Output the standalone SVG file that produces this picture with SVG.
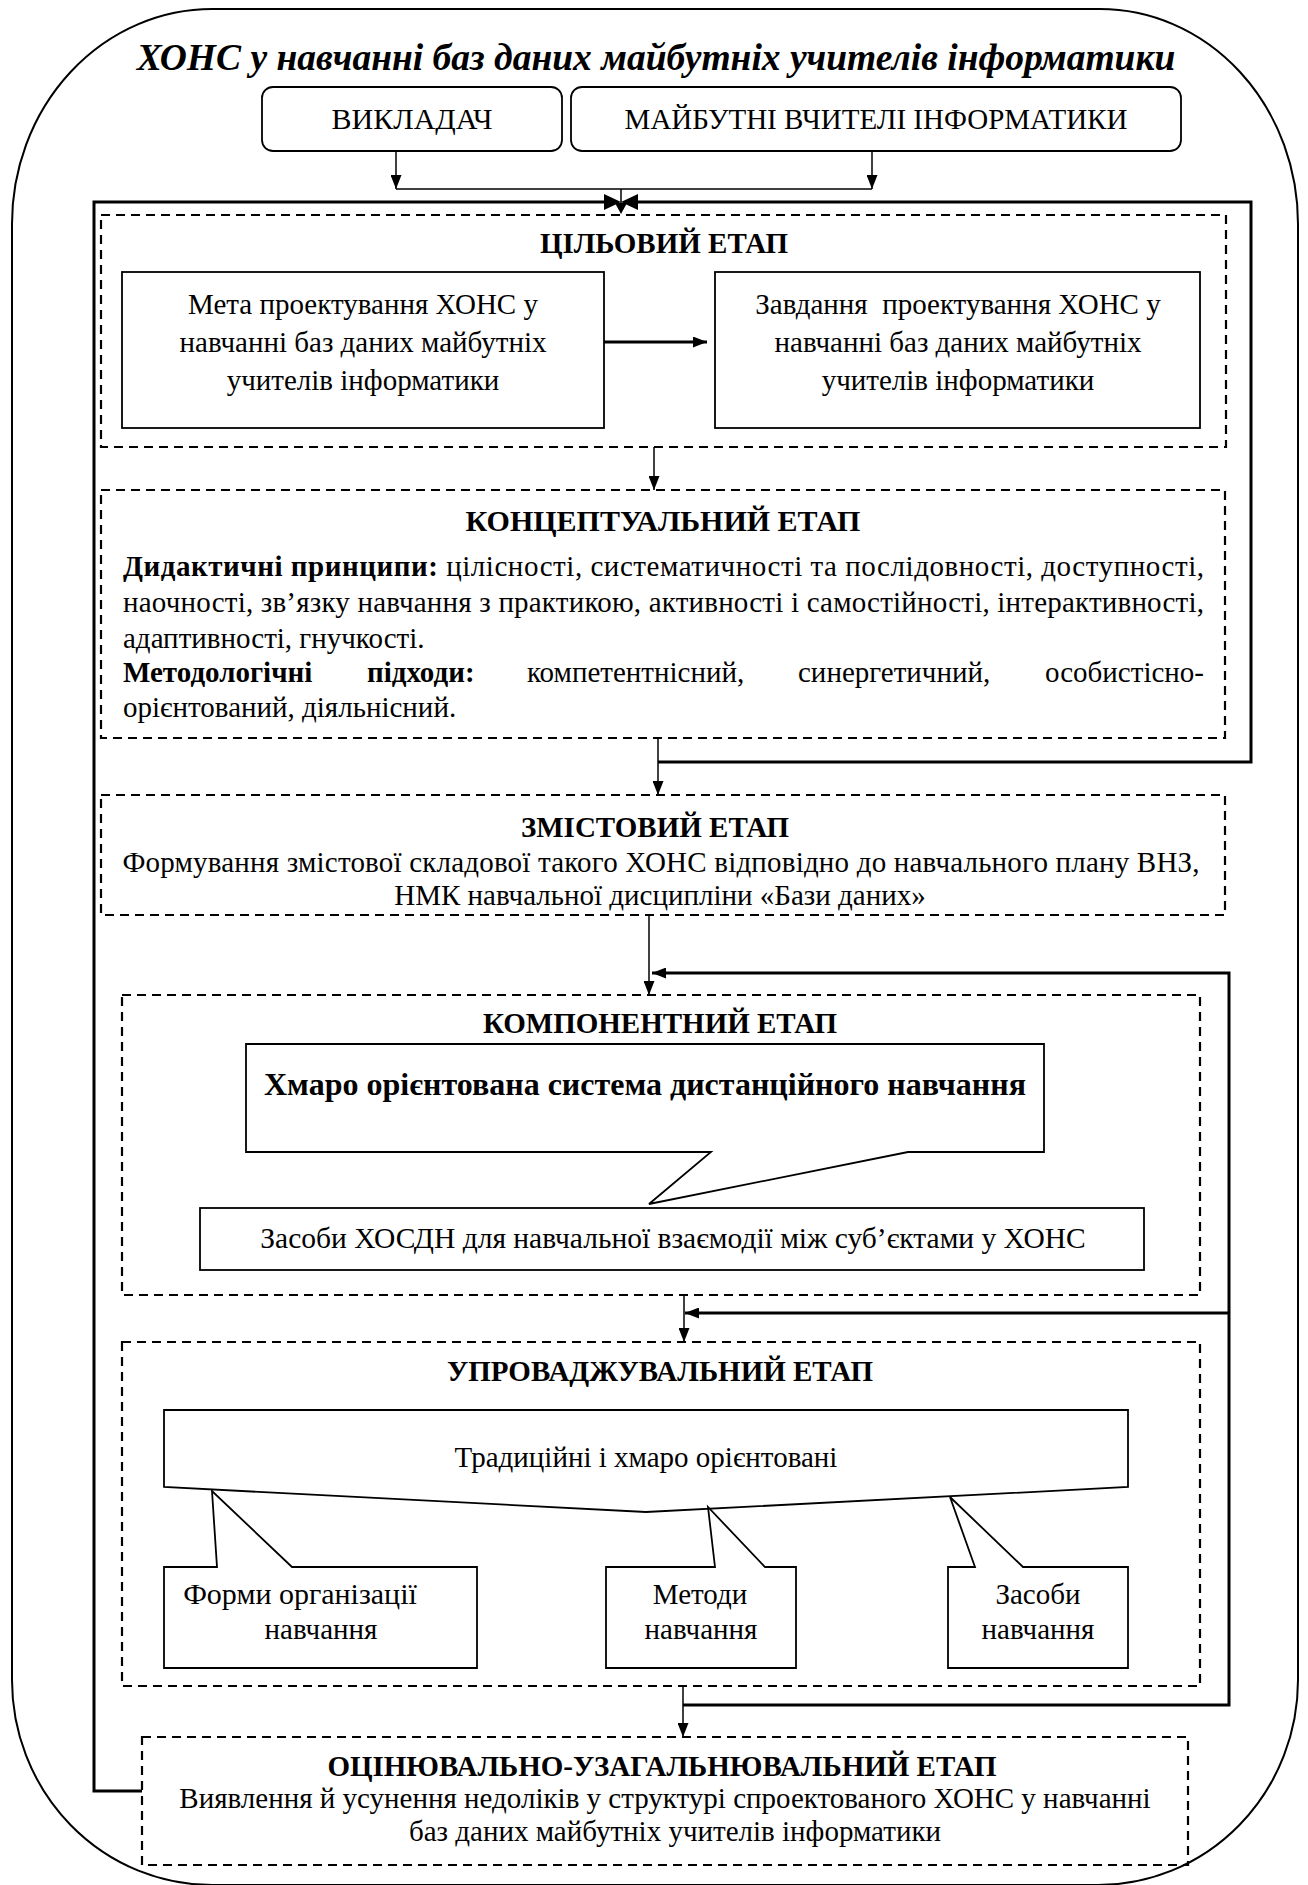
<svg xmlns="http://www.w3.org/2000/svg" width="1308" height="1885" viewBox="0 0 1308 1885">
<style>
.t{font-family:"Liberation Serif","Times New Roman",serif;font-size:29px;fill:#000}
.b{font-weight:bold}
.c{text-anchor:middle}
.box{fill:#fff;stroke:#000;stroke-width:1.8}
.dash{fill:none;stroke:#000;stroke-width:2.2;stroke-dasharray:9 6}
.thin{fill:none;stroke:#000;stroke-width:1.5}
.thick{fill:none;stroke:#000;stroke-width:3}
.ah{fill:#000;stroke:none}
</style>
<defs>
<marker id="arr" markerUnits="userSpaceOnUse" markerWidth="14" markerHeight="11" refX="14" refY="5.5" orient="auto">
<path d="M0,0 L14,5.5 L0,11 z" fill="#000"/>
</marker>
</defs>
<rect width="1308" height="1885" fill="#fff"/>
<g id="frame">
<path d="M212,9 H1100 A198,215 0 0 1 1298,224 V1680 A200,205 0 0 1 1098,1885 H212 A200,205 0 0 1 12,1680 V224 A200,215 0 0 1 212,9 Z" fill="none" stroke="#000" stroke-width="2"/>
<text class="t b c" x="656" y="70" style="font-size:37.5px;font-style:italic">ХОНС у навчанні баз даних майбутніх учителів інформатики</text>
</g>
<g id="connectors">
<path class="thick" d="M142,1791 H94 V202 H605"/>
<path class="thick" d="M637,202 H1251 V762 H658"/>
<polygon class="ah" points="604,194 604,210 621,202"/>
<polygon class="ah" points="638,194 638,210 621,202"/>
<path class="thin" d="M621,189 V203"/>
<polygon class="ah" points="615,203 627,203 621,214"/>
<path class="thin" d="M396,151 V189" marker-end="url(#arr)"/>
<path class="thin" d="M872,151 V189" marker-end="url(#arr)"/>
<path class="thin" d="M396,189 H872"/>
<path class="thick" d="M604,342 H707" marker-end="url(#arr)"/>
<path class="thin" d="M654,447 V490" marker-end="url(#arr)"/>
<path class="thin" d="M658,738 V795" marker-end="url(#arr)"/>
<path class="thin" d="M649,915 V995" marker-end="url(#arr)"/>
<path class="thick" d="M683,1705 H1229 V973 H652" marker-end="url(#arr)"/>
<path class="thick" d="M1229,1313 H685" marker-end="url(#arr)"/>
<path class="thin" d="M684,1295 V1342" marker-end="url(#arr)"/>
<path class="thin" d="M683,1686 V1737" marker-end="url(#arr)"/>
</g>
<g id="teacher">
<rect class="box" x="262" y="87" width="300" height="64" rx="11"/>
<text class="t c" x="412" y="129" style="font-size:30px">ВИКЛАДАЧ</text>
</g>
<g id="students">
<rect class="box" x="571" y="87" width="610" height="64" rx="11"/>
<text class="t c" x="876" y="129">МАЙБУТНІ ВЧИТЕЛІ ІНФОРМАТИКИ</text>
</g>
<g id="stage-target">
<rect class="dash" x="101" y="215" width="1125" height="232"/>
<text class="t b c" x="664" y="253">ЦІЛЬОВИЙ ЕТАП</text>
</g>
<g id="goal">
<rect class="box" x="122" y="272" width="482" height="156"/>
<text class="t c" x="363" y="314">Мета проектування ХОНС у</text>
<text class="t c" x="363" y="352">навчанні баз даних майбутніх</text>
<text class="t c" x="363" y="390">учителів інформатики</text>
</g>
<g id="tasks">
<rect class="box" x="715" y="272" width="485" height="156"/>
<text class="t c" x="958" y="314" style="white-space:pre">Завдання  проектування ХОНС у</text>
<text class="t c" x="958" y="352">навчанні баз даних майбутніх</text>
<text class="t c" x="958" y="390">учителів інформатики</text>
</g>
<g id="stage-concept">
<rect class="dash" x="101" y="490" width="1124" height="248"/>
<text class="t b c" x="663" y="531" style="font-size:30px">КОНЦЕПТУАЛЬНИЙ ЕТАП</text>
<text class="t" x="123" y="576" textLength="1081" lengthAdjust="spacing"><tspan class="b">Дидактичні принципи:</tspan> цілісності, систематичності та послідовності, доступності,</text>
<text class="t" x="123" y="612" textLength="1081" lengthAdjust="spacing">наочності, зв’язку навчання з практикою, активності і самостійності, інтерактивності,</text>
<text class="t" x="123" y="648">адаптивності, гнучкості.</text>
<text class="t b" x="123" y="682">Методологічні</text>
<text class="t b" x="367" y="682">підходи:</text>
<text class="t" x="527" y="682">компетентнісний,</text>
<text class="t" x="798" y="682">синергетичний,</text>
<text class="t" x="1204" y="682" text-anchor="end">особистісно-</text>
<text class="t" x="123" y="717">орієнтований, діяльнісний.</text>
</g>
<g id="stage-content">
<rect class="dash" x="101" y="795" width="1124" height="120"/>
<text class="t b c" x="655" y="837">ЗМІСТОВИЙ ЕТАП</text>
<text class="t c" x="661" y="872" textLength="1077" lengthAdjust="spacing">Формування змістової складової такого ХОНС відповідно до навчального плану ВНЗ,</text>
<text class="t c" x="660" y="905">НМК навчальної дисципліни «Бази даних»</text>
</g>
<g id="stage-component">
<rect class="dash" x="122" y="995" width="1078" height="300"/>
<text class="t b c" x="660" y="1033">КОМПОНЕНТНИЙ ЕТАП</text>
</g>
<g id="cloud-system">
<path class="box" d="M246,1044 H1044 V1152 H908 L649,1204 L711,1152 H246 Z"/>
<text class="t b c" x="645" y="1095" style="font-size:32px">Хмаро орієнтована система дистанційного навчання</text>
</g>
<g id="tools-lms">
<rect class="box" x="200" y="1208" width="944" height="62"/>
<text class="t c" x="673" y="1248" style="font-size:29.5px">Засоби ХОСДН для навчальної взаємодії між суб’єктами у ХОНС</text>
</g>
<g id="stage-implement">
<rect class="dash" x="122" y="1342" width="1078" height="344"/>
<text class="t b c" x="660" y="1381">УПРОВАДЖУВАЛЬНИЙ ЕТАП</text>
</g>
<g id="traditional">
<path class="box" d="M164,1410 H1128 V1487 L646,1512 L164,1487 Z"/>
<text class="t c" x="646" y="1467">Традиційні і хмаро орієнтовані</text>
</g>
<g id="forms">
<path class="box" d="M164,1567 H217 L212,1491 L292,1567 H477 V1668 H164 Z"/>
<text class="t c" x="300" y="1604" style="font-size:30px">Форми організації</text>
<text class="t c" x="321" y="1639">навчання</text>
</g>
<g id="methods">
<path class="box" d="M606,1567 H715 L708,1507 L765,1567 H796 V1668 H606 Z"/>
<text class="t c" x="700" y="1604">Методи</text>
<text class="t c" x="701" y="1639">навчання</text>
</g>
<g id="means">
<path class="box" d="M948,1567 H975 L950,1497 L1023,1567 H1128 V1668 H948 Z"/>
<text class="t c" x="1038" y="1604">Засоби</text>
<text class="t c" x="1038" y="1639">навчання</text>
</g>
<g id="stage-eval">
<rect class="dash" x="142" y="1737" width="1046" height="128"/>
<text class="t b c" x="662" y="1776">ОЦІНЮВАЛЬНО-УЗАГАЛЬНЮВАЛЬНИЙ ЕТАП</text>
<text class="t c" x="665" y="1808">Виявлення й усунення недоліків у структурі спроектованого ХОНС у навчанні</text>
<text class="t c" x="675" y="1841">баз даних майбутніх учителів інформатики</text>
</g>
</svg>
